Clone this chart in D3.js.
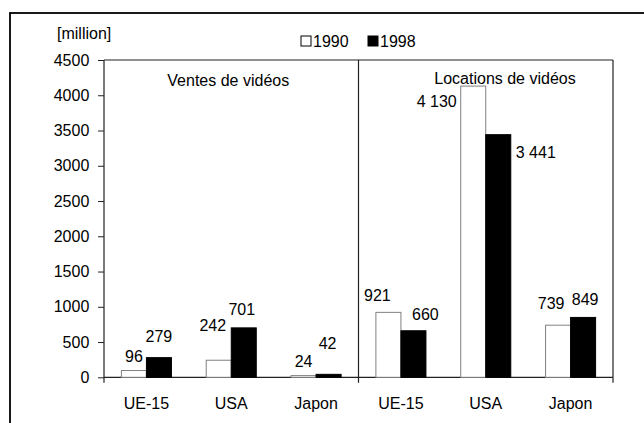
<!DOCTYPE html>
<html>
<head>
<meta charset="utf-8">
<script src="https://cdn.jsdelivr.net/npm/d3@7"></script>
<style>
    body { margin: 0; background: #fff; }
    svg text { font-family: "Liberation Sans", Arial, sans-serif; font-size: 16px; fill: #000; }
</style>
</head>
<body>
<div id="chart"></div>
<script>

// data
var categories = ["UE-15", "USA", "Japon"];
var panels = ["Ventes de vidéos", "Locations de vidéos"];
var years = ["1990", "1998"];
var sales1990 = [96, 242, 24];
var sales1998 = [279, 701, 42];
var rent1990 = [921, 4130, 739];
var rent1998 = [660, 3441, 849];
var yTicks = [0, 500, 1000, 1500, 2000, 2500, 3000, 3500, 4000, 4500];

var w = 644, h = 423;
var margin = {top: 60, left: 104, right: 31, bottom: 45.7};

var svg = d3.select("#chart").append("svg")
    .attr("width", w)
    .attr("height", h);

// outer frame (runs off the right and bottom of the picture)
svg.append("rect")
    .attr("x", 10).attr("y", 13)
    .attr("width", 700).attr("height", 500)
    .attr("fill", "none")
    .attr("stroke", "#000")
    .attr("stroke-width", 1.8);

// one row per bar group
var rows = [];
panels.forEach(function (p, pi) {
    var a = pi == 0 ? sales1990 : rent1990,
        b = pi == 0 ? sales1998 : rent1998;
    categories.forEach(function (c, ci) {
        rows.push({key: pi * 3 + ci, cat: c, values: [a[ci], b[ci]]});
    });
});

var x0 = d3.scaleBand()
    .domain(rows.map(function (d) { return d.key; }))
    .range([margin.left, w - margin.right])
    .paddingInner(0.41)
    .paddingOuter(0.205);

var x1 = d3.scaleBand()
    .domain(years)
    .range([0, x0.bandwidth()]);

var y = d3.scaleLinear()
    .domain([0, 4500])
    .range([h - margin.bottom, margin.top]);

var x0r = w - margin.right;
var divider = x0(3) - x0.step() * x0.paddingInner() / 2;

// y axis ticks and labels
var yAxis = d3.axisLeft(y)
    .tickValues(yTicks)
    .tickSize(6)
    .tickPadding(8.7)
    .tickFormat(d3.format("d"));

var ga = svg.append("g")
    .attr("transform", "translate(" + margin.left + ",0)")
    .call(yAxis);
ga.select(".domain").remove();
ga.selectAll("line").attr("stroke", "#222");
ga.selectAll("text")
    .style("font-family", "'Liberation Sans', Arial, sans-serif")
    .style("font-size", "16px")
    .attr("fill", "#000");

// plot frame lines
var frame = svg.append("g").attr("stroke", "#222").attr("stroke-width", 1.2);
frame.append("line")   // top
    .attr("x1", margin.left).attr("x2", x0r)
    .attr("y1", y(4500)).attr("y2", y(4500));
frame.append("line")   // x axis
    .attr("x1", margin.left).attr("x2", x0r)
    .attr("y1", y(0)).attr("y2", y(0));
[margin.left, divider, x0r].forEach(function (xx) {
    frame.append("line")
        .attr("x1", xx).attr("x2", xx)
        .attr("y1", y(4500)).attr("y2", y(0) + 5.5);
});

// bars
var groups = svg.selectAll(".grp")
    .data(rows)
    .enter()
    .append("g")
    .attr("class", "grp")
    .attr("transform", function (d) { return "translate(" + x0(d.key) + ",0)"; });

groups.selectAll("rect")
    .data(function (d) {
        return d.values.map(function (v, i) { return {year: years[i], value: v, key: d.key}; });
    })
    .enter()
    .append("rect")
    .attr("x", function (d) { return x1(d.year); })
    .attr("y", function (d) { return y(d.value); })
    .attr("width", x1.bandwidth())
    .attr("height", function (d) { return y(0) - y(d.value); })
    .attr("fill", function (d) { return d.year == "1990" ? "#fff" : "#000"; })
    .attr("stroke", function (d) { return d.year == "1990" ? "#808080" : "#000"; })
    .attr("stroke-width", 1);

// value labels, nudged by hand like the original
// [dx, gap above bar top] for group key / year
var nudge = {
    "0-1990": [0, 8.5], "0-1998": [0, 15.5],
    "1-1990": [-6, 29], "1-1998": [-2, 13],
    "2-1990": [0, 8.5], "2-1998": [-1, 25],
    "3-1990": [-11, 11.5], "3-1998": [12, 11],
    "5-1990": [-7, 16], "5-1998": [2, 12.5]
};
var fr = d3.formatLocale({decimal: ",", thousands: " ", grouping: [3], currency: ["", ""]});
var fmt = fr.format(",");

groups.selectAll("text.val")
    .data(function (d) {
        return d.values.map(function (v, i) { return {year: years[i], value: v, key: d.key}; });
    })
    .enter()
    .append("text")
    .attr("class", "val")
    .attr("text-anchor", function (d) {
        if (d.key == 4) return d.year == "1990" ? "end" : "start";
        return "middle";
    })
    .attr("x", function (d) {
        var cx = x1(d.year) + x1.bandwidth() / 2;
        if (d.key == 4) return d.year == "1990" ? x1(d.year) - 4 : x1(d.year) + x1.bandwidth() + 5;
        return cx + nudge[d.key + "-" + d.year][0];
    })
    .attr("y", function (d) {
        if (d.key == 4) return d.year == "1990" ? y(d.value) + 21 : y(d.value) + 23;
        return y(d.value) - nudge[d.key + "-" + d.year][1];
    })
    .text(function (d) { return fmt(d.value); });

// category labels
svg.selectAll("text.cat")
    .data(rows)
    .enter()
    .append("text")
    .attr("class", "cat")
    .attr("text-anchor", "middle")
    .attr("x", function (d) { return x0(d.key) + x0.bandwidth() / 2; })
    .attr("y", 409)
    .text(function (d) { return d.cat; });

// panel titles
svg.append("text")
    .attr("text-anchor", "middle")
    .attr("x", (margin.left + divider) / 2 - 3)
    .attr("y", 86)
    .text(panels[0]);
svg.append("text")
    .attr("text-anchor", "middle")
    .attr("x", 505)
    .attr("y", 84)
    .text(panels[1]);

// unit
svg.append("text")
    .attr("x", 57)
    .attr("y", 39)
    .text("[million]");

// legend
var leg = svg.append("g").attr("transform", "translate(301,36)");
years.forEach(function (yr, i) {
    var g = leg.append("g").attr("transform", "translate(" + (i * 67) + ",0)");
    g.append("rect")
        .attr("width", 10).attr("height", 10)
        .attr("fill", i == 0 ? "#fff" : "#000")
        .attr("stroke", "#000")
        .attr("stroke-width", 1);
    g.append("text")
        .attr("x", 12)
        .attr("y", 10.5)
        .text(yr);
});

</script>
</body>
</html>
